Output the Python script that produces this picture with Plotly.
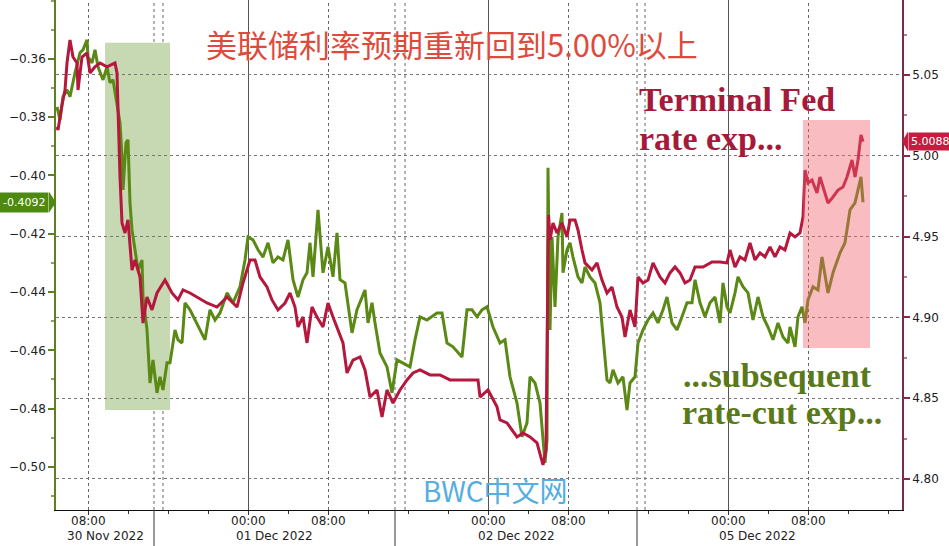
import plotly.graph_objects as go

# time axis: hours from 30 Nov 2022 00:00, weekend collapsed (05 Dec 00:00 = 72)
fed_t = [4.85, 4.95, 5.35, 5.65, 5.85, 6.15, 6.45, 6.85, 6.95, 7.35, 7.85, 8.15, 8.65, 9.15, 9.85, 10.65, 10.85,
         10.95, 11.15, 11.35, 11.65, 11.95, 12.35, 12.65, 13.15, 13.45, 13.85, 14.35, 14.85, 15.65, 16.35, 16.95,
         17.45, 18.15, 18.85, 19.85, 20.85, 21.85, 22.85, 23.45, 24.15, 24.65, 25.15, 25.85, 26.35, 26.95, 27.65,
         28.15, 28.65, 28.95, 29.45, 29.85, 30.35, 30.85, 31.45, 31.95, 32.45, 32.95, 33.45, 33.85, 34.45, 35.15,
         35.65, 36.15, 36.85, 37.35, 37.85, 38.45, 39.15, 39.85, 40.45, 41.15, 42.15, 43.15, 44.15, 45.85, 46.95,
         47.15, 47.95, 48.85, 49.15, 49.85, 50.85, 51.45, 52.15, 52.85, 53.45, 53.75, 54.0, 54.15, 54.45, 54.85,
         55.35, 55.85, 56.15, 56.65, 56.95, 57.35, 57.65, 58.35, 58.85, 59.35, 59.85, 60.35, 60.85, 61.35, 61.65,
         62.15, 62.65, 62.95, 63.45, 63.95, 64.45, 65.15, 65.65, 66.15, 66.65, 67.15, 67.65, 68.15, 68.65, 69.45,
         70.35, 71.15, 71.85, 72.15, 72.65, 73.15, 73.65, 74.15, 74.65, 75.15, 75.65, 76.15, 76.65, 77.15, 77.65,
         78.15, 78.65, 79.15, 79.45, 79.65, 79.95, 80.35, 80.85, 81.15, 81.45, 81.95, 82.45, 82.95, 83.45, 83.85,
         84.35, 84.65, 84.95, 85.25, 85.45]
fed_v = [5.0178, 5.0160, 5.0314, 5.0407, 5.0574, 5.0717, 5.0611, 5.0574, 5.0407, 5.0611, 5.0636, 5.0512, 5.0550,
         5.0574, 5.0550, 5.0574, 5.0512, 5.0265, 4.9869, 4.9584, 4.9522, 4.9603, 4.9293, 4.9355, 4.9250, 4.8965,
         4.9126, 4.9046, 4.9151, 4.9231, 4.9151, 4.9108, 4.9170, 4.9151, 4.9126, 4.9089, 4.9064, 4.9126, 4.9064,
         4.9213, 4.9355, 4.9355, 4.9250, 4.9188, 4.9108, 4.9046, 4.9089, 4.9151, 4.9064, 4.8941, 4.9002, 4.8842,
         4.9064, 4.9002, 4.8941, 4.9089, 4.9002, 4.8922, 4.8842, 4.8656, 4.8736, 4.8755, 4.8675, 4.8507, 4.8551,
         4.8384, 4.8551, 4.8470, 4.8551, 4.8613, 4.8656, 4.8675, 4.8644, 4.8644, 4.8613, 4.8613, 4.8613, 4.8507,
         4.8551, 4.8446, 4.8365, 4.8347, 4.8260, 4.8285, 4.8260, 4.8223, 4.8087, 4.8180, 4.9634, 4.9479, 4.9584,
         4.9522, 4.9584, 4.9498, 4.9603, 4.9603, 4.9541, 4.9417, 4.9337, 4.9293, 4.9337, 4.9231, 4.9151, 4.9188,
         4.9064, 4.9002, 4.8879, 4.9046, 4.8941, 4.9250, 4.9213, 4.9231, 4.9337, 4.9250, 4.9213, 4.9275, 4.9312,
         4.9275, 4.9213, 4.9231, 4.9312, 4.9312, 4.9343, 4.9343, 4.9337, 4.9417, 4.9312, 4.9374, 4.9355, 4.9460,
         4.9355, 4.9399, 4.9374, 4.9436, 4.9374, 4.9436, 4.9417, 4.9522, 4.9498, 4.9522, 4.9621, 4.9912, 4.9832,
         4.9850, 4.9770, 4.9869, 4.9807, 4.9708, 4.9745, 4.9788, 4.9807, 4.9869, 4.9974, 4.9869, 4.9974, 5.0129,
         5.0088]

cut_t = [4.85, 5.15, 5.45, 5.85, 6.15, 6.65, 7.15, 7.45, 7.85, 7.95, 8.35, 8.65, 8.95, 9.45, 9.85, 10.15, 10.45,
         10.85, 11.15, 11.35, 11.45, 11.75, 11.95, 12.15, 12.35, 12.65, 12.95, 13.35, 13.45, 13.85, 14.15, 14.45,
         14.85, 15.15, 15.45, 15.85, 16.15, 16.65, 16.95, 17.35, 17.65, 18.15, 18.65, 19.15, 19.65, 20.15, 20.65,
         21.15, 21.85, 22.45, 23.15, 23.65, 23.95, 24.45, 24.95, 25.45, 25.95, 26.45, 26.95, 27.45, 27.95, 28.45,
         28.95, 29.45, 29.85, 30.15, 30.45, 30.95, 31.45, 31.95, 32.45, 32.85, 33.15, 33.65, 34.35, 34.85, 35.35,
         35.65, 35.95, 36.35, 36.65, 37.15, 37.85, 38.35, 38.85, 39.45, 40.15, 40.65, 41.15, 41.85, 42.35, 42.85,
         43.35, 43.85, 44.45, 45.35, 45.85, 46.35, 46.85, 47.35, 47.85, 48.45, 49.15, 49.65, 50.15, 50.85, 51.35,
         51.85, 52.15, 52.65, 53.15, 53.65, 53.85, 53.95, 54.15, 54.35, 54.65, 54.95, 55.35, 55.45, 55.85, 56.15,
         56.45, 56.95, 57.35, 57.65, 58.15, 58.65, 59.15, 59.45, 59.85, 60.15, 60.45, 60.95, 61.45, 61.85, 62.15,
         62.65, 62.95, 63.45, 63.95, 64.45, 64.95, 65.45, 65.85, 66.35, 66.85, 67.35, 67.85, 68.35, 68.65, 69.15,
         69.65, 70.15, 70.65, 71.15, 71.45, 71.85, 72.15, 72.65, 72.95, 73.45, 73.95, 74.45, 74.95, 75.45, 75.95,
         76.45, 76.95, 77.45, 77.95, 78.15, 78.65, 78.95, 79.35, 79.65, 79.95, 80.45, 80.95, 81.35, 81.65, 81.95,
         82.45, 83.15, 83.65, 84.15, 84.65, 84.95, 85.25, 85.45]
cut_v = [-0.3765, -0.3809, -0.3730, -0.3706, -0.3730, -0.3648, -0.3579, -0.3569, -0.3535, -0.3593, -0.3614,
         -0.3569, -0.3627, -0.3672, -0.3627, -0.3682, -0.3672, -0.3751, -0.3820, -0.3936, -0.4050, -0.3888,
         -0.3878, -0.4094, -0.4187, -0.4255, -0.4324, -0.4290, -0.4417, -0.4530, -0.4712, -0.4633, -0.4746,
         -0.4691, -0.4736, -0.4643, -0.4643, -0.4530, -0.4564, -0.4575, -0.4437, -0.4461, -0.4496, -0.4530,
         -0.4564, -0.4461, -0.4496, -0.4472, -0.4403, -0.4437, -0.4382, -0.4290, -0.4211, -0.4221, -0.4255,
         -0.4280, -0.4231, -0.4300, -0.4280, -0.4290, -0.4221, -0.4358, -0.4417, -0.4358, -0.4334, -0.4231,
         -0.4348, -0.4118, -0.4334, -0.4245, -0.4348, -0.4197, -0.4358, -0.4369, -0.4540, -0.4461, -0.4417,
         -0.4393, -0.4506, -0.4437, -0.4506, -0.4609, -0.4657, -0.4746, -0.4633, -0.4643, -0.4657, -0.4564,
         -0.4485, -0.4496, -0.4485, -0.4472, -0.4472, -0.4575, -0.4588, -0.4623, -0.4461, -0.4461, -0.4485,
         -0.4461, -0.4451, -0.4520, -0.4575, -0.4564, -0.4691, -0.4781, -0.4897, -0.4849, -0.4691, -0.4712,
         -0.4781, -0.4986, -0.4908, -0.3974, -0.4530, -0.4211, -0.4451, -0.4211, -0.4129, -0.4334, -0.4255,
         -0.4231, -0.4280, -0.4348, -0.4369, -0.4314, -0.4348, -0.4369, -0.4437, -0.4554, -0.4702, -0.4712,
         -0.4667, -0.4712, -0.4691, -0.4805, -0.4712, -0.4691, -0.4575, -0.4530, -0.4496, -0.4472, -0.4506,
         -0.4461, -0.4417, -0.4506, -0.4530, -0.4485, -0.4437, -0.4437, -0.4358, -0.4437, -0.4485, -0.4437,
         -0.4417, -0.4506, -0.4369, -0.4451, -0.4472, -0.4403, -0.4348, -0.4382, -0.4403, -0.4496, -0.4417,
         -0.4485, -0.4520, -0.4564, -0.4506, -0.4554, -0.4575, -0.4520, -0.4588, -0.4485, -0.4451, -0.4506,
         -0.4427, -0.4382, -0.4393, -0.4280, -0.4348, -0.4403, -0.4334, -0.4266, -0.4231, -0.4118, -0.4094,
         -0.4050, -0.4005, -0.4092]

tick_hours = [8, 24, 32, 48, 56, 72, 80]
tick_text = ["08:00", "00:00", "08:00", "00:00", "08:00", "00:00", "08:00"]
midnights = [24, 48, 72]
eight_am = [8, 32, 56, 80]
day_breaks = [14.55, 38.65, 62.85]
day_break_dots = [15.45, 39.65, 63.65]
date_labels = ["30 Nov 2022", "01 Dec 2022", "02 Dec 2022", "05 Dec 2022"]
date_pos = [9.65, 26.6, 50.75, 74.85]

RED = "#b5173d"
GREEN = "#5b8915"
FONT = "DejaVu Sans"
PLOT_H = 510.0
PLOT_W = 846.0

fig = go.Figure()
fig.add_trace(go.Scatter(x=fed_t, y=fed_v, yaxis="y2", mode="lines",
                         line=dict(color=RED, width=3), hoverinfo="skip"))
fig.add_trace(go.Scatter(x=cut_t, y=cut_v, yaxis="y", mode="lines",
                         line=dict(color=GREEN, width=3), hoverinfo="skip"))

shapes = []
# shaded highlight boxes
shapes.append(dict(type="rect", xref="x", yref="y", x0=9.65, x1=16.15, y0=-0.4805, y1=-0.3545,
                   fillcolor="#c6d9b3", line=dict(width=0), layer="below"))
shapes.append(dict(type="rect", xref="x", yref="y2", x0=79.45, x1=86.15, y0=4.8811, y1=5.0222,
                   fillcolor="rgba(240,95,108,0.42)", line=dict(width=0), layer="above"))
# vertical grid lines
for h in midnights:
    shapes.append(dict(type="line", xref="x", yref="paper", x0=h, x1=h, y0=0, y1=1,
                       line=dict(color="#555555", width=1), layer="below"))
for h in eight_am + day_breaks + day_break_dots:
    shapes.append(dict(type="line", xref="x", yref="paper", x0=h, x1=h, y0=0, y1=1,
                       line=dict(color="#666666", width=1, dash="dot"), layer="below"))
# day separators below the axis
for h in day_breaks:
    shapes.append(dict(type="line", xref="x", yref="paper", x0=h, x1=h, y0=0, y1=-0.075,
                       line=dict(color="#333333", width=1)))

# last value pointers
last_cut = cut_v[-1]
last_fed = fed_v[-1]
shapes.append(dict(type="path", xref="paper", yref="y",
                   path=f"M -0.0083,{last_cut + 0.0036} L 0,{last_cut} L -0.0083,{last_cut - 0.0036} Z",
                   fillcolor="#4f8a10", line=dict(width=0)))
shapes.append(dict(type="path", xref="paper", yref="y2",
                   path=f"M 1.0071,{last_fed + 0.0062} L 1.0,{last_fed} L 1.0071,{last_fed - 0.0062} Z",
                   fillcolor="#c41d40", line=dict(width=0)))

annotations = []
annotations.append(dict(text=f"{last_cut:.4f}", xref="paper", yref="y", x=-0.0083, y=last_cut,
                        xanchor="right", yanchor="middle", showarrow=False, bgcolor="#4f8a10",
                        font=dict(family=FONT, size=11, color="white"), borderpad=3))
annotations.append(dict(text=f"{last_fed:.4f}", xref="paper", yref="y2", x=1.0071, y=last_fed,
                        xanchor="left", yanchor="middle", showarrow=False, bgcolor="#c41d40",
                        font=dict(family=FONT, size=11, color="white"), borderpad=2))
# time labels and date labels under the x axis
for h, lab in zip(tick_hours, tick_text):
    annotations.append(dict(text=lab, xref="x", yref="paper", x=h, y=-(521 - PLOT_H) / PLOT_H,
                            xanchor="center", yanchor="middle", showarrow=False,
                            font=dict(family=FONT, size=12, color="#222222")))
for lab, pos in zip(date_labels, date_pos):
    annotations.append(dict(text=lab, xref="x", yref="paper", x=pos, y=-(536 - PLOT_H) / PLOT_H,
                            xanchor="center", yanchor="middle", showarrow=False,
                            font=dict(family=FONT, size=12, color="#222222")))
annotations.append(dict(text="美联储利率预期重新回到5.00%以上", xref="paper", yref="paper",
                        x=(452 - 56) / PLOT_W, y=1 - 43 / PLOT_H, xanchor="center", yanchor="middle",
                        showarrow=False, font=dict(family="Noto Sans CJK SC", size=31, color="#de4a3c")))
serif = "Liberation Serif"
for txt, px, py, col in [("<b>Terminal Fed</b>", 637, 100, "#a51a3a"),
                         ("<b>rate exp...</b>", 637, 139, "#a51a3a"),
                         ("<b>...subsequent</b>", 681, 375, "#5a7a1a"),
                         ("<b>rate-cut exp...</b>", 680, 412, "#5a7a1a")]:
    annotations.append(dict(text=txt, xref="paper", yref="paper", x=(px - 56) / PLOT_W, y=1 - py / PLOT_H,
                            xanchor="left", yanchor="middle", showarrow=False,
                            font=dict(family=serif, size=34, color=col)))
annotations.append(dict(text="BWC中文网", xref="paper", yref="paper", x=(495 - 56) / PLOT_W,
                        y=1 - 490 / PLOT_H, xanchor="center", yanchor="middle", showarrow=False,
                        font=dict(family="Noto Sans CJK SC", size=28, color="#55ade0")))

fig.update_layout(
    width=949, height=546,
    margin=dict(l=56, r=47, t=0, b=36),
    paper_bgcolor="white", plot_bgcolor="white",
    showlegend=False, hovermode=False,
    shapes=shapes, annotations=annotations,
    xaxis=dict(range=[4.75, 89.35], tickmode="array", tickvals=tick_hours, showticklabels=False,
               showgrid=False, zeroline=False, showline=True, linecolor="#111111", linewidth=1,
               ticks="outside", ticklen=4, tickcolor="#333333",
               minor=dict(dtick=4, tick0=0, ticks="outside", ticklen=3, tickcolor="#333333")),
    yaxis=dict(range=[-0.5148, -0.3398], tickmode="array",
               tickvals=[-0.50, -0.48, -0.46, -0.44, -0.42, -0.40, -0.38, -0.36], tickformat=".2f",
               showgrid=False, zeroline=False, showline=True, linecolor="#5e7f22", linewidth=1.5,
               ticks="outside", ticklen=6, tickwidth=2, tickcolor="#5e7f22",
               minor=dict(dtick=0.01, tick0=0, ticks="outside", ticklen=3, tickcolor="#8aa060"),
               tickfont=dict(family=FONT, size=12, color="#222222")),
    yaxis2=dict(range=[4.7808, 5.0964], overlaying="y", side="right", tickmode="array",
                tickvals=[4.80, 4.85, 4.90, 4.95, 5.00, 5.05], tickformat=".2f",
                showgrid=True, gridcolor="#777777", griddash="dot", gridwidth=1,
                zeroline=False, showline=True, linecolor="#7d2a45", linewidth=1.5,
                ticks="outside", ticklen=6, tickwidth=2, tickcolor="#8a2a45",
                minor=dict(dtick=0.025, tick0=0, ticks="outside", ticklen=3, tickcolor="#b08090"),
                tickfont=dict(family=FONT, size=12, color="#222222")),
)

fig.write_html("out.html", config={"displayModeBar": False},
               post_script="document.body.style.margin='0';document.body.style.overflow='hidden';")
